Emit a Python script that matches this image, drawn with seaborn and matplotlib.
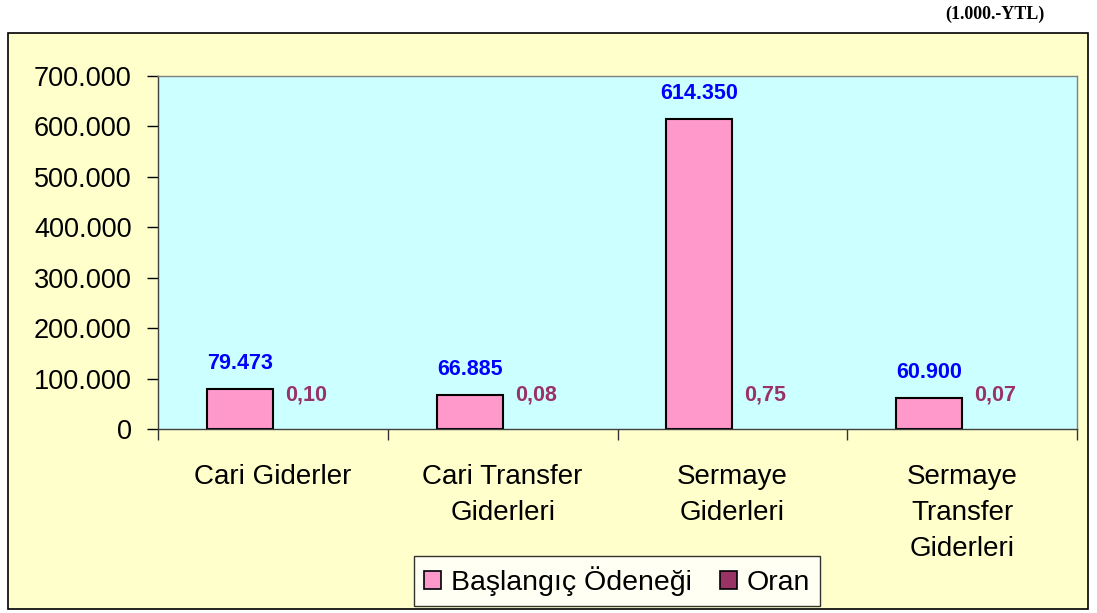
import matplotlib
matplotlib.use("Agg")
import matplotlib.pyplot as plt
import seaborn as sns
import pandas as pd
from matplotlib.patches import Rectangle
from matplotlib.ticker import FuncFormatter, FixedLocator

categories = ["Cari Giderler", "Cari Transfer\nGiderleri", "Sermaye\nGiderleri", "Sermaye\nTransfer\nGiderleri"]
baslangic = [79473, 66885, 614350, 60900]
oran = [0.10, 0.08, 0.75, 0.07]
series_names = ["Başlangıç Ödeneği", "Oran"]
y_ticks = [0, 100000, 200000, 300000, 400000, 500000, 600000, 700000]

df = pd.DataFrame({
    "cat": categories * 2,
    "series": [series_names[0]] * 4 + [series_names[1]] * 4,
    "value": baslangic + oran,
})

sns.set_theme(style="white")
plt.rcParams["font.family"] = ["Liberation Sans", "DejaVu Sans"]
plt.rcParams["text.color"] = "black"
plt.rcParams["xtick.color"] = "black"
plt.rcParams["ytick.color"] = "black"

fig = plt.figure(figsize=(10.97, 6.13), dpi=100)
fig.patch.set_facecolor("white")
W, H = 1097, 613
frame = Rectangle((8 / W, 1 - 609 / H), (1088 - 8) / W, (609 - 33) / H,
                  transform=fig.transFigure, facecolor="#FFFFCC", edgecolor="black",
                  linewidth=1.2, zorder=-10)
fig.patches.append(frame)

ax = fig.add_axes([158 / W, 1 - 429 / H, (1077 - 158) / W, (429 - 76) / H])
ax.set_zorder(1)
ax.set_facecolor("#CCFFFF")
sns.barplot(data=df, x="cat", y="value", hue="series", order=categories,
            hue_order=series_names, palette=["#FF99CC", "#993366"], saturation=1,
            width=0.574, edgecolor="black", linewidth=1.5, ax=ax, legend=True)

ax.set_ylim(0, 700000)
ax.set_xlim(-0.5, 3.5)
ax.yaxis.set_major_locator(FixedLocator(y_ticks))
ax.yaxis.set_major_formatter(FuncFormatter(lambda v, p: f"{int(v):,}".replace(",", ".")))
ax.tick_params(axis="y", left=True, length=8, width=1, color="black", labelsize=19.5,
               labelcolor="black", pad=11)
ax.set_xticks(range(len(categories)))
ax.set_xticklabels(categories, fontsize=20, linespacing=1.5, color="black")
ax.tick_params(axis="x", bottom=True, length=0, pad=25)
ax.set_xticks([-0.5, 0.5, 1.5, 2.5, 3.5], minor=True)
ax.tick_params(axis="x", which="minor", bottom=True, length=8, width=1, color="#333333")
ax.set_xlabel("")
ax.set_ylabel("")
for s in ["top", "right"]:
    ax.spines[s].set_color("#808080")
    ax.spines[s].set_linewidth(1)
for s in ["left", "bottom"]:
    ax.spines[s].set_color("#404040")
    ax.spines[s].set_linewidth(1)

# value labels
cont_b, cont_o = ax.containers[0], ax.containers[1]
for p in cont_o:
    p.set_edgecolor("none")
ax.bar_label(cont_b, labels=[f"{v:,}".replace(",", ".") for v in baslangic],
             padding=11, color="#0000FF", fontsize=15.5, fontweight="bold")
ax.bar_label(cont_o, labels=[f"{v:.2f}".replace(".", ",") for v in oran],
             padding=17, color="#993366", fontsize=15.5, fontweight="bold")

leg = ax.legend(loc="center", bbox_to_anchor=(617 / W, 1 - 581 / H),
                bbox_transform=fig.transFigure, ncol=2, fontsize=20.5, frameon=True,
                fancybox=False, handlelength=0.6, handleheight=0.6,
                handletextpad=0.35, columnspacing=1.0, borderpad=0.35)
leg.get_frame().set_edgecolor("black")
leg.get_frame().set_linewidth(1)
leg.get_frame().set_facecolor("white")
for h in leg.legend_handles:
    h.set_edgecolor("black")
    h.set_linewidth(1.2)

fig.text(995 / W, 1 - 14 / H, "(1.000.-YTL)", ha="center", va="center",
         fontsize=13, fontweight="bold", family=["Liberation Serif", "DejaVu Serif"])

fig.savefig("out.png", dpi=100)
